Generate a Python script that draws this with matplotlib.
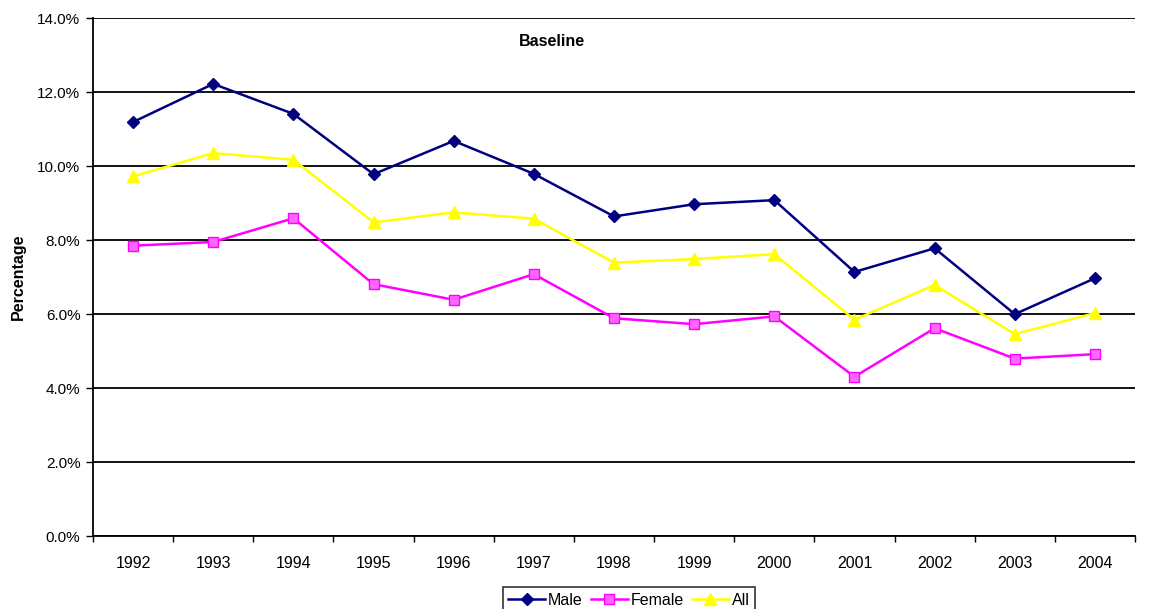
import matplotlib
matplotlib.use("Agg")
import matplotlib.pyplot as plt
from matplotlib.ticker import FuncFormatter, FixedLocator

plt.rcParams['font.family'] = ['Liberation Sans', 'DejaVu Sans']

years = ["1992", "1993", "1994", "1995", "1996", "1997", "1998",
         "1999", "2000", "2001", "2002", "2003", "2004"]
male = [11.19, 12.22, 11.41, 9.78, 10.68, 9.79, 8.64, 8.97, 9.08, 7.14, 7.78, 6.00, 6.97]
female = [7.85, 7.95, 8.59, 6.81, 6.39, 7.08, 5.89, 5.73, 5.94, 4.31, 5.62, 4.80, 4.92]
all_ = [9.72, 10.35, 10.17, 8.48, 8.75, 8.58, 7.39, 7.49, 7.62, 5.85, 6.79, 5.46, 6.03]
yticks = [0, 2, 4, 6, 8, 10, 12, 14]

fig = plt.figure(figsize=(11.58, 6.09), dpi=100)
ax = fig.add_axes([93/1158, 1 - 536.3/609, (1135 - 93)/1158, (536.3 - 18)/609])

x = list(range(len(years)))
ax.plot(x, male, color='#000080', marker='D', markersize=6, lw=1.8, label='Male')
ax.plot(x, female, color='#FF00FF', marker='s', markersize=7, markerfacecolor='#FF66FF',
        markeredgecolor='#FF00FF', lw=1.8, label='Female')
ax.plot(x, all_, color='#FFFF00', marker='^', markersize=8, lw=1.8, label='All')

ax.set_xlim(-0.5, len(years) - 0.5)
ax.set_ylim(0, 14)
ax.set_yticks(yticks)
ax.yaxis.set_major_formatter(FuncFormatter(lambda v, p: f"{v:.1f}%"))
ax.yaxis.grid(True, color='black', lw=1.3)
ax.set_axisbelow(True)

ax.xaxis.set_major_locator(FixedLocator([i - 0.5 for i in range(len(years) + 1)]))
ax.xaxis.set_minor_locator(FixedLocator(x))
ax.set_xticklabels([])
ax.set_xticklabels(years, minor=True)
ax.tick_params(axis='x', which='major', direction='out', length=4, width=1, color='black')
ax.tick_params(axis='x', which='minor', length=0, pad=14, labelsize=11.5)
ax.tick_params(axis='y', direction='out', length=5, width=1, labelsize=11, pad=4)

for s in ['top', 'right']:
    ax.spines[s].set_visible(False)
for s in ['left', 'bottom']:
    ax.spines[s].set_linewidth(1.3)
    ax.spines[s].set_color('black')

ax.set_ylabel('Percentage', fontsize=11.5, fontweight='bold', va='center')
ax.yaxis.set_label_coords((18 - 93) / 1042, 0.5)
fig.text(552/1158, 1 - 41/609, 'Baseline', fontsize=11.5, fontweight='bold', ha='center', va='center')

leg = fig.legend(loc='upper center', bbox_to_anchor=(629/1158, 1 - 587/609), ncol=3,
                 frameon=True, fancybox=False, edgecolor='black', fontsize=11.5,
                 handlelength=2.3, handletextpad=0.2, columnspacing=0.5,
                 borderpad=0.35, borderaxespad=0)
leg.get_frame().set_linewidth(1.2)

fig.savefig('out.png', dpi=100)
